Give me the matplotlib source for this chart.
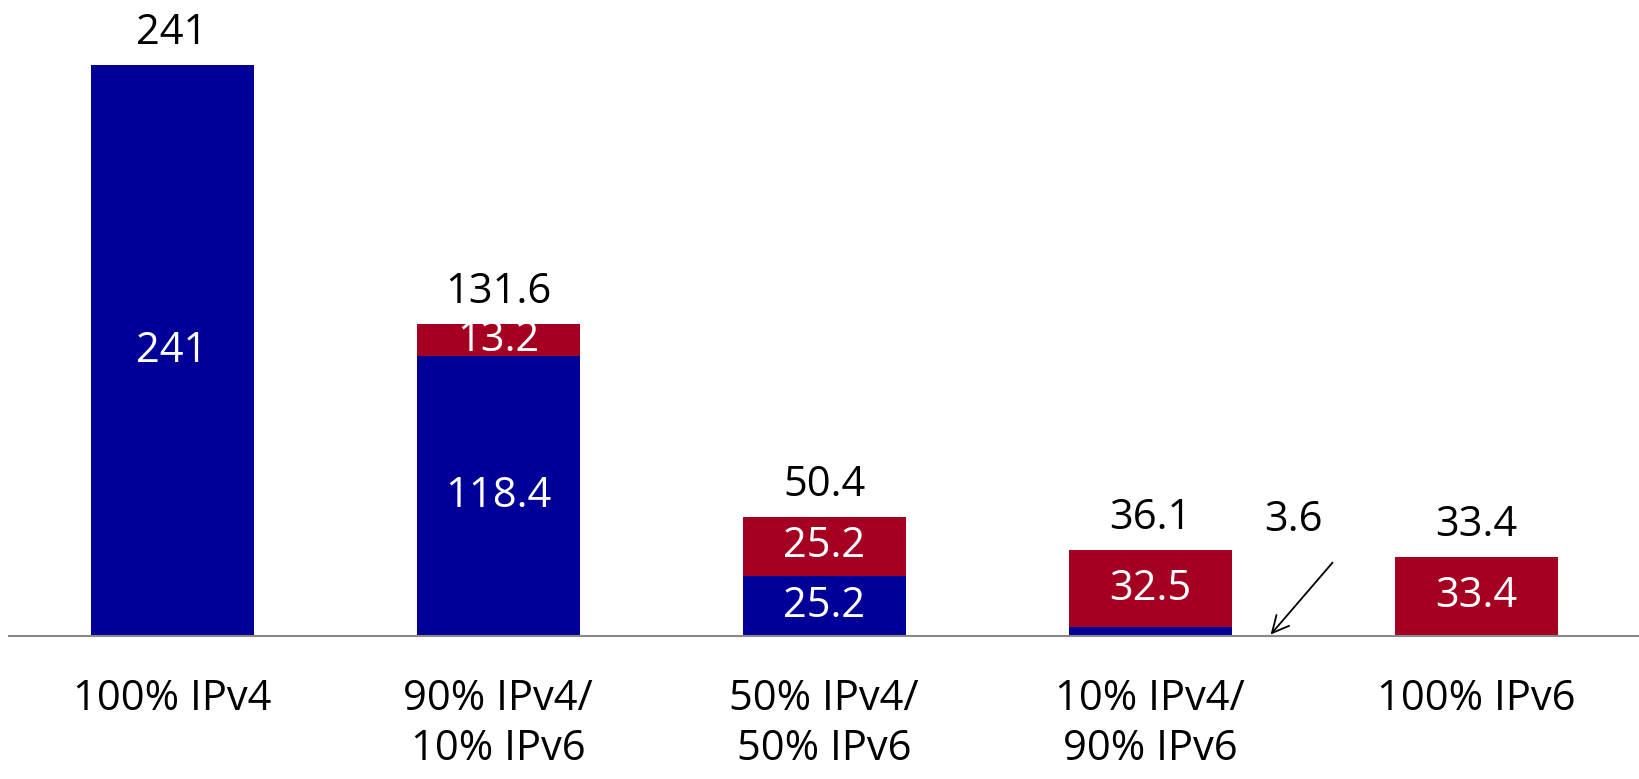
import matplotlib
matplotlib.use("Agg")
import matplotlib.pyplot as plt
import numpy as np

# ------------------------------------------------------------- data
categories = ["100% IPv4", "90% IPv4/\n10% IPv6", "50% IPv4/\n50% IPv6",
              "10% IPv4/\n90% IPv6", "100% IPv6"]
ipv4 = [241, 118.4, 25.2, 3.6, 0]
ipv6 = [0, 13.2, 25.2, 32.5, 33.4]
totals = ["241", "131.6", "50.4", "36.1", "33.4"]
ipv4_labels = ["241", "118.4", "25.2", "", ""]
ipv6_labels = ["", "13.2", "25.2", "32.5", "33.4"]

BLUE = "#000099"
RED = "#A50021"

plt.rcParams["font.family"] = ["Open Sans", "DejaVu Sans"]
FS = 30

fig = plt.figure(figsize=(16.4, 7.79), dpi=100)
ax = fig.add_axes([9 / 1640, (779 - 636) / 779, 1630 / 1640, 636 / 779])

x = np.arange(len(categories))
ax.bar(x, ipv4, width=0.5, color=BLUE)
ax.bar(x, ipv6, width=0.5, bottom=ipv4, color=RED)

for i in range(len(categories)):
    if ipv4_labels[i]:
        ax.text(x[i], ipv4[i] / 2, ipv4_labels[i], ha="center", va="center",
                color="white", fontsize=FS)
    if ipv6_labels[i]:
        ax.text(x[i], ipv4[i] + ipv6[i] / 2, ipv6_labels[i], ha="center",
                va="center", color="white", fontsize=FS)
    ax.annotate(totals[i], (x[i], ipv4[i] + ipv6[i]), xytext=(0, 8),
                textcoords="offset points", ha="center", va="bottom",
                fontsize=FS)

# callout for the thin IPv4 slice of the 4th bar
ax.annotate("", xy=(3.37, 0.6), xytext=(3.56, 31),
            arrowprops=dict(arrowstyle="->", color="black", lw=1.3,
                            mutation_scale=30, shrinkA=0, shrinkB=0))
ax.text(3.44, 49, "3.6", ha="center", va="center", fontsize=FS)

ax.set_xlim(-0.5, 4.5)
ax.set_ylim(0, 268.5)
ax.set_xticks(x)
ax.set_xticklabels(categories, fontsize=FS, linespacing=1.25)
ax.tick_params(axis="x", length=0, pad=30)
ax.set_yticks([])
for s in ["top", "right", "left"]:
    ax.spines[s].set_visible(False)
ax.spines["bottom"].set_color("#898989")
ax.spines["bottom"].set_linewidth(1.5)

fig.savefig("out.png", dpi=100)
